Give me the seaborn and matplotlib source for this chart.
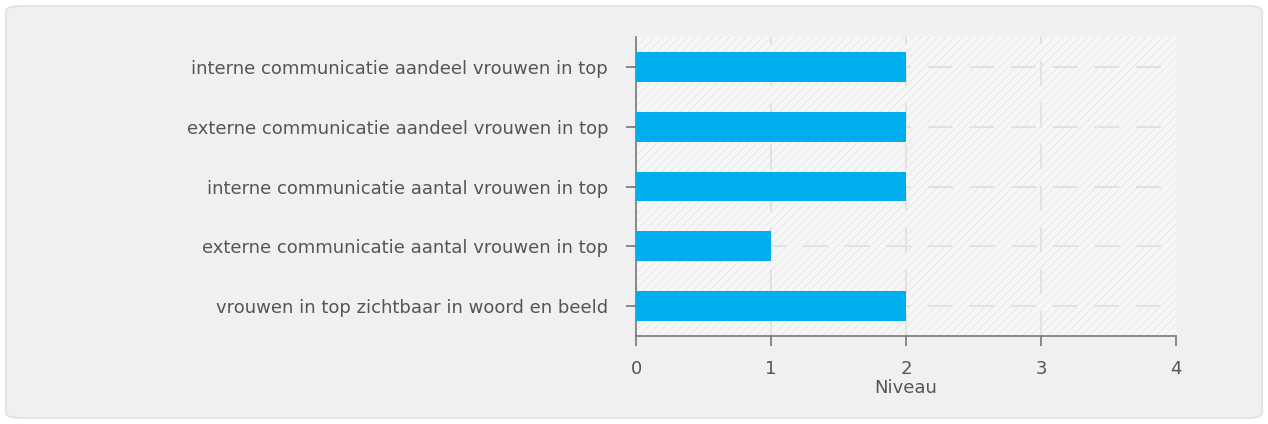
import matplotlib
matplotlib.use("Agg")
import matplotlib.pyplot as plt
import seaborn as sns
import pandas as pd
from matplotlib.patches import FancyBboxPatch, Rectangle

categories = [
    "interne communicatie aandeel vrouwen in top",
    "externe communicatie aandeel vrouwen in top",
    "interne communicatie aantal vrouwen in top",
    "externe communicatie aantal vrouwen in top",
    "vrouwen in top zichtbaar in woord en beeld",
]
niveau = [2, 2, 2, 1, 2]
x_ticks = [0, 1, 2, 3, 4]

df = pd.DataFrame({"categorie": categories, "niveau": niveau})

sns.set_style("white")
plt.rcParams["font.family"] = ["DejaVu Sans"]
plt.rcParams["hatch.linewidth"] = 0.8

fig = plt.figure(figsize=(12.68, 4.24), dpi=100)
fig.patch.set_facecolor("white")

# outer rounded panel, behind the axes
panel = FancyBboxPatch((6 / 1268, 6 / 424), 1256 / 1268, 412 / 424,
                       boxstyle="round,pad=0,rounding_size=0.012",
                       transform=fig.transFigure, facecolor="#f0f0f0",
                       edgecolor="#e4e4e4", linewidth=1.5, zorder=-5)
fig.patches.append(panel)

ax = fig.add_axes([636 / 1268, 88 / 424, 540 / 1268, 299 / 424])
ax.set_zorder(1)
ax.set_facecolor("#f7f7f7")
ax.add_patch(Rectangle((0, 0), 1, 1, transform=ax.transAxes, facecolor="#f7f7f7",
                       edgecolor="#eaeaea", hatch="////", linewidth=0, zorder=0))

sns.barplot(data=df, x="niveau", y="categorie", orient="h", color="#00adef",
            saturation=1, width=0.5, linewidth=0, ax=ax, zorder=3)

ax.set_xlim(0, 4)
ax.set_ylim(4.5, -0.5)
ax.set_xticks(x_ticks)
ax.set_xlabel("Niveau", fontsize=13, color="#555555", labelpad=1)
ax.set_ylabel("")

for v in x_ticks[1:-1]:
    ax.axvline(v, color="#e2e2e2", linewidth=1.5, dashes=(12, 8), zorder=1)
for i in range(len(categories)):
    ax.axhline(i, color="#e2e2e2", linewidth=1.5, dashes=(12, 8), zorder=1)

for side in ["top", "right"]:
    ax.spines[side].set_visible(False)
for side in ["left", "bottom"]:
    ax.spines[side].set_color("#777777")
    ax.spines[side].set_linewidth(1.2)

ax.tick_params(axis="x", direction="out", length=7, width=1.2, color="#777777",
               labelcolor="#555555", labelsize=13, pad=10, bottom=True)
ax.tick_params(axis="y", direction="out", length=7, width=1.2, color="#777777",
               labelcolor="#555555", labelsize=13, pad=13, left=True)

fig.savefig("out.png", dpi=100, facecolor=fig.get_facecolor())
